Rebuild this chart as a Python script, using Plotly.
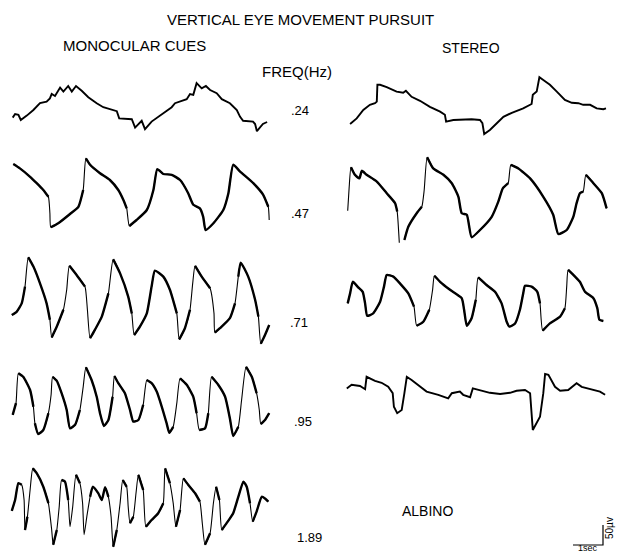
import plotly.graph_objects as go

# ---------------------------------------------------------------
# Calibration taken from the scale bar (1 sec, 50 µV)
# ---------------------------------------------------------------
W, H = 617, 554
PX_PER_SEC = 30.0      # horizontal: 1 sec
UV_PER_PX = 2.5        # vertical: 50 µV

# ---------------------------------------------------------------
# Digitized traces: time (s) from column start, amplitude (µV) above row baseline
# ---------------------------------------------------------------
MONO_024_T = [0.09, 0.17, 0.28, 0.36, 0.56, 0.78, 1.00, 1.11, 1.22, 1.33, 1.39, 1.50, 1.67, 1.78, 1.94, 2.06,
              2.20, 2.39, 2.61, 2.89, 3.11, 3.56, 3.64, 4.06, 4.17, 4.39, 4.50, 4.72, 5.11, 5.39, 5.50, 5.89,
              6.00, 6.11, 6.22, 6.39, 6.53, 6.67, 6.89, 7.06, 7.33, 7.56, 7.67, 7.77, 8.10, 8.17, 8.23, 8.33,
              8.43, 8.57]
MONO_024_V = [31, 40, 38, 25, 36, 50, 67, 69, 71, 79, 90, 85, 106, 96, 110, 96,
              110, 98, 82, 67, 57, 47, 29, 27, 6, 23, 2, 21, 42, 57, 67, 77,
              90, 88, 117, 104, 110, 100, 92, 77, 67, 50, 33, 23, 21, 15, -3, 5,
              15, 20]

STEREO_024_T = [0.17, 0.39, 0.61, 0.83, 1.00, 1.06, 1.08, 1.17, 1.39, 1.72, 1.94, 2.03, 2.22, 2.50, 2.83, 3.17,
                3.33, 3.37, 3.61, 3.94, 4.22, 4.50, 4.58, 4.64, 4.83, 5.06, 5.28, 5.56, 5.94, 6.22, 6.26, 6.39,
                6.44, 6.48, 6.61, 6.83, 7.06, 7.33, 7.56, 7.78, 7.94, 8.17, 8.39, 8.61, 8.70]
STEREO_024_V = [15, 29, 50, 63, 67, 71, 113, 113, 107, 96, 93, 98, 83, 73, 58, 46,
                38, 21, 25, 27, 27, 25, 17, -10, 0, 17, 33, 43, 54, 65, 88, 96,
                113, 132, 125, 113, 96, 75, 68, 67, 63, 63, 54, 52, 54]

MONO_047_T = [0.11, 0.33, 0.67, 0.89, 1.11, 1.28, 1.33, 1.36, 1.61, 2.00, 2.28, 2.44, 2.53, 2.67, 3.00, 3.33,
              3.61, 3.78, 3.89, 3.98, 4.22, 4.56, 4.78, 4.91, 5.11, 5.39, 5.67, 5.94, 6.11, 6.33, 6.44, 6.52,
              6.78, 7.11, 7.28, 7.44, 7.67, 8.11, 8.44, 8.61, 8.64]
MONO_047_V = [165, 154, 133, 117, 100, 83, 42, 7, 17, 40, 58, 100, 179, 163, 142, 125,
              100, 75, 54, 10, 25, 50, 100, 152, 140, 138, 125, 92, 63, 54, 33, 0,
              17, 50, 92, 163, 146, 117, 88, 58, 25]

STEREO_047_T = [0.09, 0.14, 0.20, 0.33, 0.48, 0.56, 0.72, 1.06, 1.39, 1.67, 1.74, 1.81, None,
                1.98, 2.11, 2.39, 2.56, 2.64, 2.74, 2.94, 3.28, 3.56, 3.78, 3.89, 4.06, 4.22, 4.50, 4.89,
                5.11, 5.26, 5.44, 5.53, 5.78, 6.17, 6.61, 6.94, 7.11, 7.39, 7.61, 7.72, 7.83, 7.94, 8.03,
                8.28, 8.56, 8.72]
STEREO_047_V = [48, 108, 157, 138, 129, 148, 138, 121, 92, 67, 46, -32, None,
                -25, 8, 42, 58, 100, 182, 154, 138, 117, 83, 42, 38, -18, 0, 33,
                71, 104, 117, 163, 154, 129, 83, 38, -10, 0, 33, 67, 92, 96, 138,
                117, 92, 54]

MONO_071_T = [0.06, 0.22, 0.39, 0.50, 0.61, 0.78, 1.00, 1.22, 1.33, 1.39, 1.56, 1.78, 1.89, 1.98, 2.22, 2.50,
              2.58, 2.67, 2.83, 3.06, 3.28, 3.44, 3.67, 3.94, 4.06, 4.14, 4.33, 4.56, 4.72, 4.83, 5.11, 5.33,
              5.56, 5.64, 5.83, 6.00, 6.09, 6.17, 6.39, 6.67, 6.80, 6.83, 7.00, 7.33, 7.50, 7.61, 7.69, 7.94,
              8.17, 8.28, 8.36, 8.50, 8.64]
MONO_071_V = [75, 83, 104, 146, 219, 196, 154, 104, 63, 19, 46, 88, 138, 198, 175, 146,
              88, 17, 38, 71, 129, 214, 179, 121, 79, 25, 46, 79, 146, 186, 171, 138,
              79, 14, 42, 88, 154, 198, 171, 142, 79, 31, 42, 67, 104, 171, 206, 171,
              113, 71, 3, 25, 50]

STEREO_071_T = [0.09, 0.17, 0.26, 0.44, 0.59, 0.67, 0.74, 0.94, 1.17, 1.30, 1.39, 1.61, 1.83, 2.11, 2.30, 2.39,
                2.61, 2.81, 2.92, 2.98, 3.17, 3.50, 3.89, 3.97, 4.06, 4.22, 4.36, 4.44, 4.72, 5.00, 5.22, 5.39,
                5.48, 5.67, 5.83, 5.94, 6.00, 6.22, 6.41, 6.50, 6.59, 6.83, 7.17, 7.33, 7.39, 7.44, 7.67, 7.83,
                8.00, 8.28, 8.41, 8.48, 8.61]
STEREO_071_V = [104, 129, 158, 144, 133, 104, 73, 79, 108, 146, 175, 171, 154, 129, 96, 48,
                58, 88, 138, 173, 158, 138, 117, 88, 48, 67, 113, 169, 150, 133, 104, 58,
                46, 54, 88, 129, 148, 146, 133, 104, 36, 54, 71, 92, 146, 188, 171, 158,
                133, 117, 92, 63, 60]

MONO_095_T = [0.09, 0.20, 0.28, 0.44, 0.67, 0.78, 0.83, 0.94, 1.11, 1.28, 1.37, 1.42, 1.56, 1.72, 1.89, 2.00,
              2.17, 2.33, 2.44, 2.53, 2.72, 2.89, 3.00, 3.13, 3.28, 3.42, 3.48, 3.61, 3.83, 4.00, 4.11, 4.28,
              4.44, 4.56, 4.72, 4.89, 5.06, 5.22, 5.31, 5.44, 5.56, 5.67, 5.89, 6.11, 6.22, 6.31, 6.50, 6.61,
              6.72, 6.94, 7.17, 7.33, 7.44, 7.61, 7.72, 7.87, 8.06, 8.22, 8.31, 8.36, 8.50, 8.64]
MONO_095_V = [63, 92, 167, 158, 125, 83, 42, 15, 25, 67, 113, 158, 148, 117, 75, 29,
              38, 75, 133, 182, 150, 108, 67, 35, 50, 108, 160, 142, 117, 75, 46, 50,
              88, 150, 142, 121, 83, 42, 18, 33, 92, 154, 138, 108, 67, 25, 29, 67,
              158, 138, 108, 54, 10, 33, 100, 183, 158, 117, 75, 40, 50, 67]

STEREO_095_T = [0.06, 0.22, 0.50, 0.67, 0.72, 0.83, 1.00, 1.22, 1.44, 1.59, 1.63, 1.74, 1.89, 1.98, 2.06, 2.22,
                2.50, 2.72, 3.11, 3.44, 3.56, 3.83, 3.94, 4.17, 4.26, 4.44, 4.83, 5.17, 5.50, 5.72, 6.00, 6.17,
                6.22, 6.26, 6.50, 6.61, 6.67, 6.78, 7.00, 7.17, 7.44, 7.61, 7.72, 7.89, 8.17, 8.50, 8.67]
STEREO_095_V = [129, 138, 135, 127, 158, 154, 148, 143, 133, 117, 83, 67, 75, 117, 158, 150,
                135, 121, 113, 104, 117, 121, 113, 107, 129, 125, 118, 115, 118, 123, 125, 117,
                75, 25, 58, 117, 165, 163, 133, 123, 125, 135, 142, 133, 127, 121, 113]

MONO_189_T = [0.06, 0.17, 0.28, 0.39, 0.47, 0.50, 0.58, 0.67, 0.76, 0.89, 1.11, 1.28, 1.39, 1.44, 1.56, 1.64,
              1.72, 1.83, 1.94, 2.00, 2.09, 2.20, 2.33, 2.42, 2.47, 2.56, 2.67, 2.76, 2.94, 3.06, 3.17, 3.28,
              3.37, 3.44, 3.56, 3.67, 3.76, 3.89, 3.94, 4.00, 4.11, 4.20, 4.28, 4.44, 4.53, 4.72, 4.94, 5.11,
              5.17, 5.33, 5.44, 5.53, 5.67, 5.78, 5.94, 6.17, 6.33, 6.41, 6.50, 6.67, 6.78, 6.87, 6.98, 7.06,
              7.22, 7.44, 7.61, 7.78, 7.89, 8.00, 8.09, 8.22, 8.39, 8.50, 8.61]
MONO_189_V = [98, 125, 167, 163, 125, 50, 83, 150, 204, 192, 158, 117, 50, 13, 50, 108,
              175, 171, 125, 58, 108, 188, 167, 117, 38, 83, 133, 158, 142, 125, 157, 133,
              83, 8, 50, 117, 175, 158, 108, 67, 83, 142, 188, 150, 58, 75, 92, 117,
              204, 167, 117, 58, 100, 179, 163, 142, 121, 67, 13, 42, 117, 158, 125, 50,
              67, 92, 133, 171, 158, 117, 71, 96, 133, 129, 121]

# Row / column labels
FREQ_LABELS = [".24", ".47", ".71", ".95", "1.89"]
TITLE = "VERTICAL EYE MOVEMENT PURSUIT"
COLUMN_TITLES = ["MONOCULAR CUES", "STEREO"]

# ---------------------------------------------------------------
# Layout placement (positions, not data)
# ---------------------------------------------------------------
COL_START_S = {"mono": 10 / PX_PER_SEC, "stereo": 345 / PX_PER_SEC}
ROW_BASE_UV = {".24": 130 * UV_PER_PX, ".47": 230 * UV_PER_PX, ".71": 345 * UV_PER_PX,
               ".95": 440 * UV_PER_PX, "1.89": 550 * UV_PER_PX}

TRACES = [
    ("mono", ".24", MONO_024_T, MONO_024_V),
    ("stereo", ".24", STEREO_024_T, STEREO_024_V),
    ("mono", ".47", MONO_047_T, MONO_047_V),
    ("stereo", ".47", STEREO_047_T, STEREO_047_V),
    ("mono", ".71", MONO_071_T, MONO_071_V),
    ("stereo", ".71", STEREO_071_T, STEREO_071_V),
    ("mono", ".95", MONO_095_T, MONO_095_V),
    ("stereo", ".95", STEREO_095_T, STEREO_095_V),
    ("mono", "1.89", MONO_189_T, MONO_189_V),
]

FAST_RATE = 450.0   # µV/s: faster segments are drawn with a thin pen stroke

fig = go.Figure()
for col, row, ts, vs in TRACES:
    x0 = COL_START_S[col]
    y0 = ROW_BASE_UV[row]
    xs = [None if t is None else x0 + t for t in ts]
    ys = [None if v is None else v - y0 for v in vs]
    noisy = row == ".24" or (col == "stereo" and row == ".95")
    if noisy:
        fig.add_trace(go.Scatter(
            x=xs, y=ys, mode="lines", connectgaps=False,
            line=dict(color="black", width=1.9, shape="linear"),
            hoverinfo="skip", showlegend=False))
        continue
    # thin base stroke
    fig.add_trace(go.Scatter(
        x=xs, y=ys, mode="lines", connectgaps=False,
        line=dict(color="black", width=1.1, shape="spline", smoothing=0.5),
        hoverinfo="skip", showlegend=False))
    # thicker stroke over the slow phases
    sx, sy = [], []
    for i in range(len(ts) - 1):
        if ts[i] is None or ts[i + 1] is None:
            continue
        rate = abs((vs[i + 1] - vs[i]) / (ts[i + 1] - ts[i]))
        if rate < FAST_RATE:
            if sx and sx[-1] is not None and abs(sx[-1] - xs[i]) < 1e-9:
                sx.append(xs[i + 1]); sy.append(ys[i + 1])
            else:
                sx += [None, xs[i], xs[i + 1]]; sy += [None, ys[i], ys[i + 1]]
    fig.add_trace(go.Scatter(
        x=sx, y=sy, mode="lines", connectgaps=False,
        line=dict(color="black", width=2.4, shape="spline", smoothing=0.5),
        hoverinfo="skip", showlegend=False))

# scale bar: 1 sec and 50 µV
SCALE_X0 = 573 / PX_PER_SEC
SCALE_Y0 = -545 * UV_PER_PX
SCALE_SEC = 1.0
SCALE_UV = 50.0
fig.add_trace(go.Scatter(
    x=[SCALE_X0, SCALE_X0 + SCALE_SEC, SCALE_X0 + SCALE_SEC],
    y=[SCALE_Y0, SCALE_Y0, SCALE_Y0 + SCALE_UV],
    mode="lines", line=dict(color="black", width=1.2),
    hoverinfo="skip", showlegend=False))

FONT = "Liberation Sans, Arial, Helvetica, sans-serif"


def px(x, y):
    return x / W, 1 - y / H


annotations = []


def add_text(text, x, y, size, xanchor="center", yanchor="middle", angle=0):
    xp, yp = px(x, y)
    annotations.append(dict(text=text, x=xp, y=yp, xref="paper", yref="paper",
                            xanchor=xanchor, yanchor=yanchor, showarrow=False,
                            textangle=angle, borderpad=0,
                            font=dict(family=FONT, size=size, color="black")))


add_text(TITLE, 300, 19, 15)
add_text(COLUMN_TITLES[0], 134, 45, 15)
add_text(COLUMN_TITLES[1], 471, 48, 14)
add_text("FREQ(Hz)", 297, 72, 15)
label_pos = [(290, 111), (290, 214), (289, 322), (293, 422), (296, 537)]
for lab, (lx, ly) in zip(FREQ_LABELS, label_pos):
    add_text(lab, lx, ly, 13, xanchor="left")
add_text("ALBINO", 427, 511, 14)
add_text("1sec", 588, 554, 9, yanchor="bottom")
add_text("50µv", 609, 528, 10, angle=-90)

fig.update_layout(
    width=W, height=H,
    margin=dict(l=0, r=0, t=0, b=0),
    paper_bgcolor="white", plot_bgcolor="white",
    xaxis=dict(range=[0, W / PX_PER_SEC], visible=False, fixedrange=True),
    yaxis=dict(range=[-H * UV_PER_PX, 0], visible=False, fixedrange=True),
    annotations=annotations,
)

fig.write_html("out.html")
